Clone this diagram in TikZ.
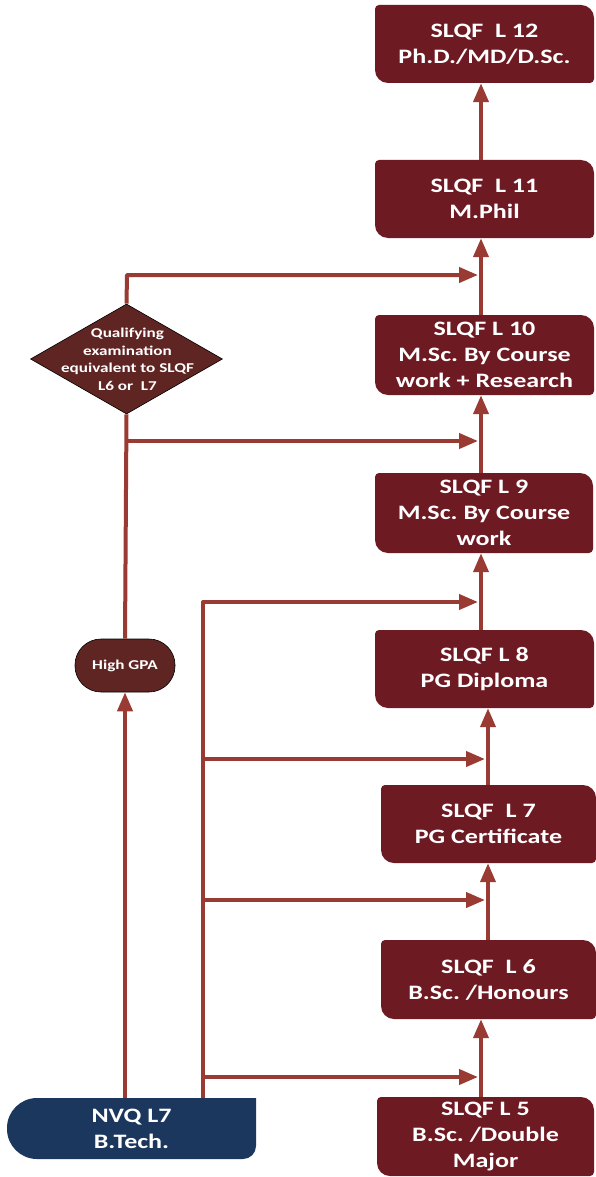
\documentclass[tikz,border=0pt]{standalone}
\usepackage{fontspec}
\newfontfamily\cf{Carlito}[FakeStretch=1.27]
\usetikzlibrary{arrows.meta,shapes.geometric,calc}
\definecolor{boxc}{HTML}{6D1A22}
\definecolor{diac}{HTML}{5F2522}
\definecolor{navy}{HTML}{1B375E}
\definecolor{linec}{HTML}{993B33}
\frenchspacing
\begin{document}
\begin{tikzpicture}[x=1pt,y=-1pt,
  lvl/.style={inner sep=0pt, text=white, align=center,
    font=\cf\bfseries\fontsize{20.5}{26}\selectfont,
    path picture={\fill[boxc] let \p1=(path picture bounding box.south west),
        \p2=(path picture bounding box.north east) in
        ({\x1+13pt},{\y1}) -- ({\x2-4pt},{\y1}) arc[start angle=-90,end angle=0,radius=4pt]
        -- ({\x2},{\y2-13pt}) arc[start angle=0,end angle=90,radius=13pt]
        -- ({\x1+4pt},{\y2}) arc[start angle=90,end angle=180,radius=4pt]
        -- ({\x1},{\y1+13pt}) arc[start angle=180,end angle=270,radius=13pt] -- cycle;}},
  nvq/.style={inner sep=0pt, text=white, align=center,
    font=\cf\bfseries\fontsize{20.5}{26}\selectfont,
    path picture={\fill[navy] let \p1=(path picture bounding box.south west),
        \p2=(path picture bounding box.north east) in
        ({\x1+30pt},{\y1}) -- ({\x2-13pt},{\y1}) arc[start angle=-90,end angle=0,radius=13pt]
        -- ({\x2},{\y2}) -- ({\x1+30pt},{\y2}) arc[start angle=90,end angle=180,radius=30pt]
        -- ({\x1},{\y1+30pt}) arc[start angle=180,end angle=270,radius=30pt] -- cycle;}},
  small/.style={text=white, align=center, inner sep=0pt,
    font=\cf\bfseries\fontsize{13.5}{17.5}\selectfont},
  ln/.style={draw=linec, line width=4pt, line join=round},
  arr/.style={ln, -{Triangle[length=19pt,width=15pt]}},
  harr/.style={arr, shorten >=3pt},
]
\useasboundingbox (0,0) rectangle (596,1177);

% level boxes
\node[lvl, minimum width=219pt, minimum height=78pt] (L12) at (484.5,44) {SLQF\ \ L 12\\Ph.D./MD/D.Sc.};
\node[lvl, minimum width=219pt, minimum height=78pt] (L11) at (484.5,199) {SLQF\ \ L 11\\M.Phil};
\node[lvl, minimum width=219pt, minimum height=80pt] (L10) at (484.5,355) {SLQF L 10\\M.Sc. By Course\\work + Research};
\node[lvl, minimum width=218pt, minimum height=80pt] (L9) at (484,513) {SLQF L 9\\M.Sc. By Course\\work};
\node[lvl, minimum width=219pt, minimum height=78pt] (L8) at (484.5,669) {SLQF L 8\\PG Diploma};
\node[lvl, minimum width=215pt, minimum height=78pt] (L7) at (488.5,824) {SLQF\ \ L 7\\PG Certificate};
\node[lvl, minimum width=215pt, minimum height=79pt] (L6) at (488.5,979.5) {SLQF\ \ L 6\\B.Sc. /Honours};
\node[lvl, minimum width=217pt, minimum height=79pt] (L5) at (485.5,1136.5) {SLQF L 5\\B.Sc. /Double\\Major};

% left side
\node[nvq, minimum width=249pt, minimum height=61pt] (NVQ) at (131.5,1128.5) {NVQ L7\\B.Tech.};
\node[draw=black, line width=0.6pt, fill=diac, rounded corners=26pt, minimum width=100pt,
      minimum height=53pt, inner sep=0pt] (gpa) at (125,665.5) {};
\node[small] (gpat) at (gpa.center) {High GPA};
\node[diamond, draw=black, line width=0.6pt, fill=diac, minimum width=192pt,
      minimum height=110pt, inner sep=0pt] (q) at (126.5,359) {};
\node[small] (qt) at (127.5,359.5) {Qualifying\\examination\\equivalent to SLQF\\L6 or\ \ L7};

% helper coordinates
\coordinate (ax) at (481,0);
\coordinate (bx) at (488,0);
\coordinate (t1) at (127,275);
\coordinate (b1) at (127,441);
\coordinate (tr) at (203,602);
\coordinate (b2) at (203,759);
\coordinate (b3) at (203,900);
\coordinate (b4) at (203,1077);

% vertical progression
\draw[arr] (L11.north -| ax) -- (L12.south -| ax);
\draw[arr] (L10.north -| ax) -- (L11.south -| ax);
\draw[arr] (L9.north -| ax) -- (L10.south -| ax);
\draw[arr] (L8.north -| ax) -- (L9.south -| ax);
\draw[arr] (L7.north -| bx) -- (L8.south -| bx);
\draw[arr] (L6.north -| bx) -- (L7.south -| bx);
\draw[arr] (L5.north -| ax) -- (L6.south -| ax);

% left route via High GPA and qualifying exam
\draw[arr] (gpa.south |- NVQ.north) -- (gpa.south);
\draw[ln] (gpa.north) -- (q.south);
\draw[harr] (q.north) -- (t1) -- (t1 -| ax);
\draw[harr] (b1) -- (b1 -| ax);

% direct route from NVQ
\draw[harr] (tr |- NVQ.north) -- (tr) -- (tr -| ax);
\draw[harr] (b2) -- (b2 -| bx);
\draw[harr] (b3) -- (b3 -| bx);
\draw[harr] (b4) -- (b4 -| ax);
\end{tikzpicture}
\end{document}
